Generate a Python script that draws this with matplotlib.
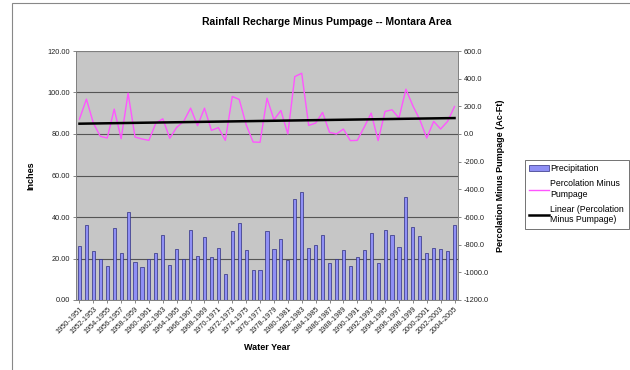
import numpy as np
import matplotlib
matplotlib.use("Agg")
import matplotlib.pyplot as plt
from matplotlib.patches import Rectangle

plt.rcParams['font.family'] = ['Liberation Sans', 'DejaVu Sans']

# Water years 1950-1951 .. 2004-2005
years = [f"{y}-{y + 1}" for y in range(1950, 2005)]

# Annual precipitation (inches)
precip = [26.0, 36.3, 23.7, 19.7, 16.6, 34.5, 22.6, 42.6, 18.4, 16.1,
          19.8, 22.8, 31.4, 16.9, 24.6, 19.8, 33.8, 21.3, 30.6, 20.5,
          25.2, 12.7, 33.2, 37.3, 23.9, 14.6, 14.3, 33.3, 24.6, 29.3,
          19.2, 48.8, 52.2, 24.9, 26.5, 31.4, 17.7, 19.7, 23.9, 16.3,
          20.7, 23.9, 32.5, 17.9, 33.8, 31.2, 25.7, 49.8, 35.3, 30.9,
          22.6, 25.0, 24.6, 23.6, 36.3]

# Percolation minus pumpage (Ac-Ft)
perc = [108, 252, 79, -17, -29, 180, -34, 295, -22, -36,
        -46, 79, 110, -31, 48, 91, 187, 60, 187, 26,
        46, -46, 271, 250, 67, -58, -60, 259, 103, 170,
        0, 415, 439, 62, 79, 156, 12, 0, 36, -48,
        -46, 50, 151, -48, 163, 175, 115, 324, 204, 103,
        -29, 91, 36, 91, 199]

x = np.arange(len(years))
slope, icpt = np.polyfit(x, perc, 1)
trend = slope * x + icpt

fig = plt.figure(figsize=(6.3, 3.7), dpi=100)
ax = fig.add_axes([76 / 630, 1 - 300 / 370, 382 / 630, 249 / 370])
ax.set_facecolor('#c6c6c6')

bars = ax.bar(x, precip, width=0.45, color='#8f8ff5', edgecolor='#2e2e80',
              linewidth=0.5, label='Precipitation')
ax.set_xlim(-0.5, len(years) - 0.5)
ax.set_ylim(0, 120)
ax.set_yticks(np.arange(0, 121, 20))
ax.set_yticklabels([f"{v:.2f}" for v in np.arange(0, 121, 20)])
ax.yaxis.grid(True, color='#555555', linewidth=0.8)
ax.set_axisbelow(True)
ax.set_xticks(x[::2])
ax.set_xticklabels(years[::2], rotation=45, ha='right', rotation_mode='anchor')
ax.tick_params(axis='both', labelsize=5.3, length=2, width=0.5, color='#555555',
               pad=2, labelcolor='#222222')
ax.set_ylabel('Inches', fontsize=6.5, fontweight='bold', labelpad=9)
ax.set_xlabel('Water Year', fontsize=6.5, fontweight='bold', labelpad=5)
for s in ax.spines.values():
    s.set_color('#808080')
    s.set_linewidth(0.6)

ax2 = ax.twinx()
line, = ax2.plot(x, perc, color='#ff55ff', linewidth=1.0,
                 label='Percolation Minus\nPumpage')
tline, = ax2.plot(x, trend, color='black', linewidth=1.8,
                  label='Linear (Percolation\nMinus Pumpage)')
ax2.set_ylim(-1200, 600)
ax2.set_yticks(np.arange(-1200, 601, 200))
ax2.set_yticklabels([f"{v:.1f}" for v in np.arange(-1200, 601, 200)])
ax2.tick_params(axis='y', labelsize=5.3, length=2, width=0.5, color='#555555',
                pad=2, labelcolor='#222222')
ax2.set_ylabel('Percolation Minus Pumpage (Ac-Ft)', fontsize=6.5,
               fontweight='bold', labelpad=5)
for s in ax2.spines.values():
    s.set_color('#808080')
    s.set_linewidth(0.6)

fig.text(327 / 630, 1 - 22 / 370, 'Rainfall Recharge Minus Pumpage -- Montara Area',
         ha='center', va='center', fontsize=7.5, fontweight='bold')

leg = fig.legend(handles=[bars, line, tline], loc='upper left',
                 bbox_to_anchor=(525 / 630, 1 - 160 / 370), fontsize=6.3,
                 frameon=True, fancybox=False, edgecolor='#333333',
                 handlelength=2.2, handletextpad=0.2, borderpad=0.5,
                 labelspacing=0.7, borderaxespad=0)
leg.get_frame().set_linewidth(0.6)

# outer chart frame
fig.patches.append(Rectangle((12 / 630, -0.1), 1.0, 1 - 3 / 370 + 0.1,
                             transform=fig.transFigure, fill=False,
                             edgecolor='#888888', linewidth=0.8))

fig.savefig('out.png', dpi=100)
